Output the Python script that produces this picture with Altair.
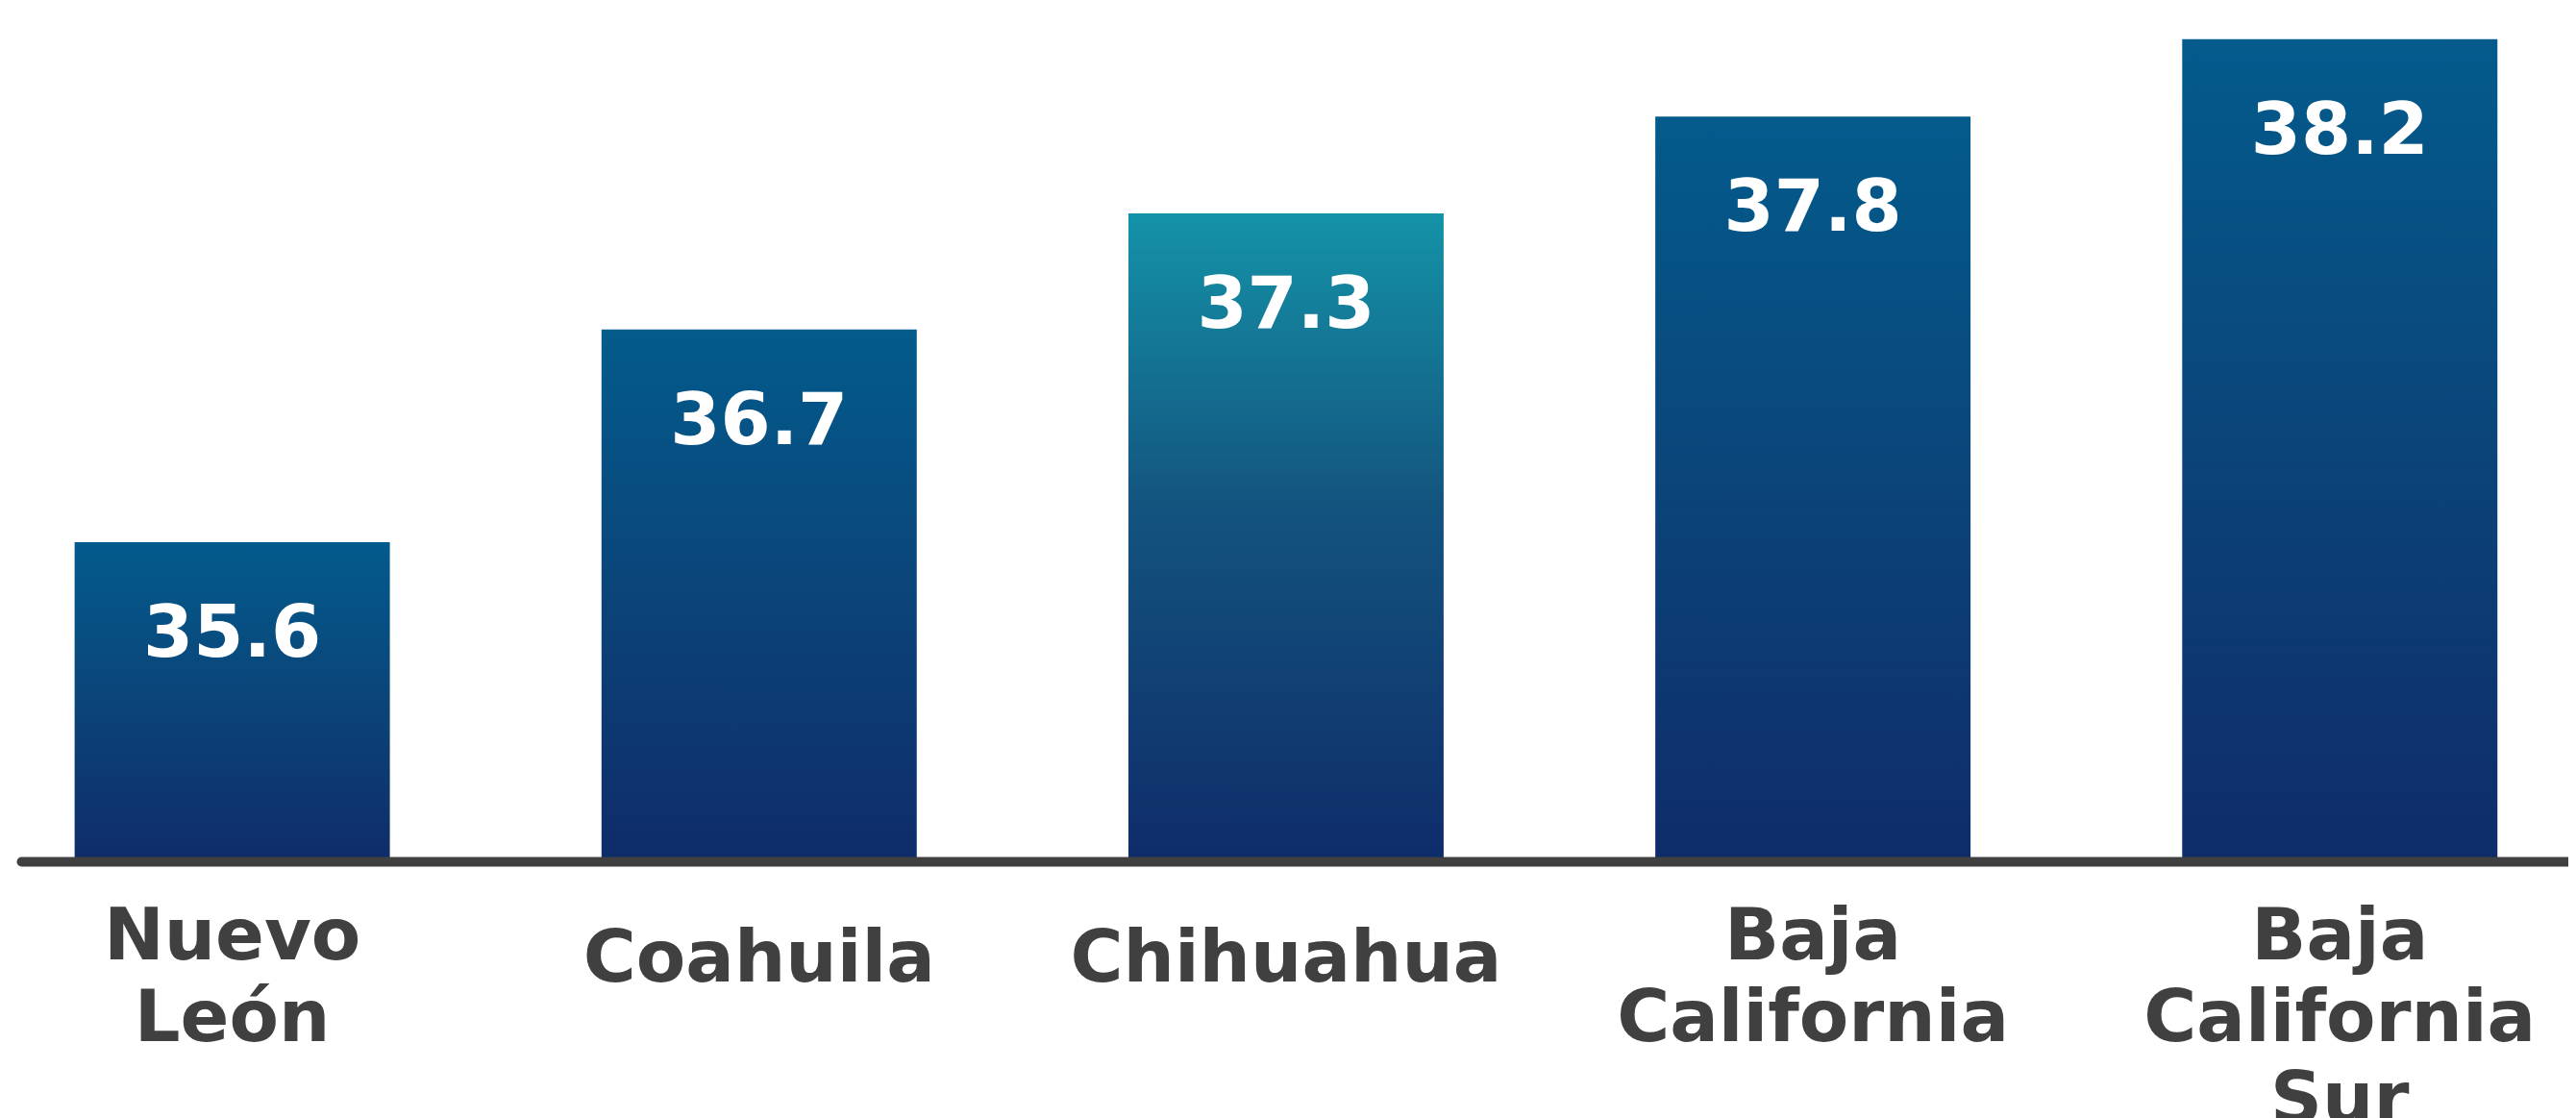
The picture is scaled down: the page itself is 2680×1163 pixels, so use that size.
import altair as alt
import pandas as pd

states = ["Nuevo León", "Coahuila", "Chihuahua", "Baja California", "Baja California Sur"]
values = [35.6, 36.7, 37.3, 37.8, 38.2]
highlight = "Chihuahua"
y_domain = [33.95, 38.363]

df = pd.DataFrame({"estado": states, "valor": values})

grad_blue = {
    "gradient": "linear", "x1": 0, "y1": 0, "x2": 0, "y2": 1,
    "stops": [{"offset": 0, "color": "#035B8C"}, {"offset": 0.5, "color": "#0B4479"}, {"offset": 1, "color": "#0F2C6A"}],
}
grad_teal = {
    "gradient": "linear", "x1": 0, "y1": 0, "x2": 0, "y2": 1,
    "stops": [{"offset": 0, "color": "#1493A8"}, {"offset": 0.45, "color": "#13547F"}, {"offset": 1, "color": "#0F2C6A"}],
}

x_enc = alt.X(
    "estado:N",
    sort=states,
    scale=alt.Scale(domain=states, paddingInner=0.4017, paddingOuter=0.118, align=0.43),
    axis=alt.Axis(
        title=None,
        ticks=False,
        tickSize=0,
        grid=False,
        domainColor="#404040",
        domainWidth=10,
        domainCap="round",
        labelAngle=0,
        labelFont="DejaVu Sans",
        labelFontWeight="bold",
        labelFontSize=75,
        labelColor="#404040",
        labelBaseline="top",
        labelLineHeight=85,
        labelPadding=alt.condition("indexof(datum.value, ' ') < 0", alt.value(65), alt.value(42)),
        labelExpr="split(datum.label, ' ')",
        labelLimit=1000,
        zindex=1,
    ),
)
y_enc = alt.Y("valor:Q", scale=alt.Scale(domain=y_domain, zero=False, clamp=True), axis=None)
y2_enc = alt.Y2(datum=y_domain[0])

base = alt.Chart(df)

bars = base.transform_filter(alt.datum.estado != highlight).mark_bar(color=grad_blue).encode(x=x_enc, y=y_enc, y2=y2_enc)
bar_hl = base.transform_filter(alt.datum.estado == highlight).mark_bar(color=grad_teal).encode(x=x_enc, y=y_enc, y2=y2_enc)
labels = base.mark_text(
    color="white", font="DejaVu Sans", fontWeight="bold", fontSize=75, baseline="alphabetic", dy=119
).encode(x=x_enc, y=y_enc, text=alt.Text("valor:Q", format=".1f"))

chart = (
    alt.layer(bars, bar_hl, labels)
    .properties(width=2650, height=888, background="white",
                padding={"left": 14, "top": 0, "right": 0, "bottom": 0})
    .configure_view(strokeWidth=0, stroke=None)
)

chart.save("out.html", embed_options={"renderer": "svg", "actions": False})
